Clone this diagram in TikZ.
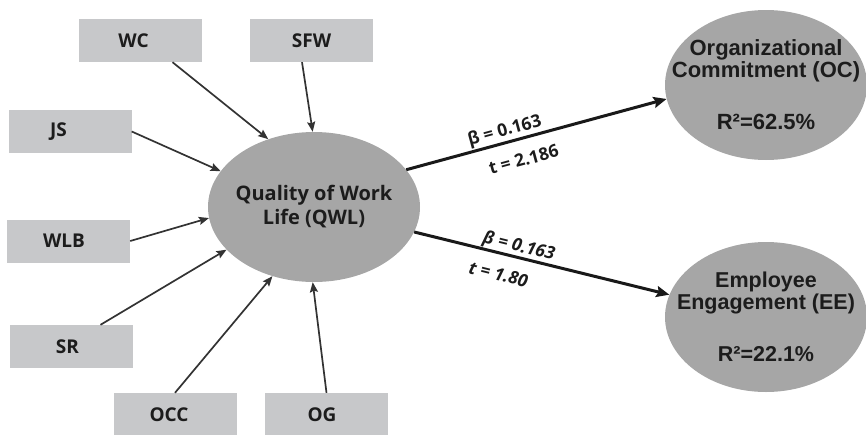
\documentclass[tikz,border=0pt]{standalone}
\usepackage{fontspec}
\usetikzlibrary{arrows.meta,shapes.geometric}
\newfontfamily\osfont{Open Sans}
\newfontfamily\lsfont{Liberation Sans}
\definecolor{boxgray}{HTML}{C7C8CA}
\definecolor{ellgray}{HTML}{A6A6A6}
\definecolor{txt}{HTML}{1C1C1C}
\definecolor{arr}{HTML}{333333}
\newcommand{\nudge}[1]{\hspace*{-#1}}
\tikzset{
  factor/.style={rectangle, fill=boxgray, minimum width=123pt, minimum height=43pt, inner sep=0pt,
    font=\osfont\bfseries\fontsize{19}{21}\selectfont, text=txt},
  blob/.style={ellipse, fill=ellgray, inner sep=0pt},
  blobtext/.style={align=center, text=txt, inner sep=0pt},
  thin arrow/.style={draw=arr, line width=1.7pt, -{Stealth[length=10pt,width=8pt,inset=1.5pt]}},
  thick arrow/.style={draw=black!90, line width=3pt, -{Stealth[length=13pt,width=11pt,inset=2pt]}},
  pathlabel/.style={sloped, inner sep=1pt, text=txt, font=\osfont\bfseries\fontsize{17.5}{19}\selectfont},
  pathlabelit/.style={pathlabel, font=\osfont\bfseries\itshape\fontsize{17.5}{19}\selectfont},
}
\begin{document}
\begin{tikzpicture}[x=1pt,y=-1pt]
\useasboundingbox (0,0) rectangle (866,434);
% factor boxes
\node[factor] (wc)  at (140.5,40.5)  {\nudge{14pt}WC};
\node[factor] (sfw) at (311.5,40.5)  {SFW};
\node[factor] (js)  at (70,131.5)    {\nudge{23pt}JS};
\node[factor] (wlb) at (68.5,241)    {\nudge{9pt}WLB};
\node[factor] (sr)  at (71.5,346.5)  {\nudge{8pt}SR};
\node[factor] (occ) at (175,414.5)   {\nudge{12pt}OCC};
\node[factor] (og)  at (326.5,414.5) {\nudge{9pt}OG};
% central construct
\node[blob, minimum width=212pt, minimum height=150pt] (qwl) at (314,207) {};
\node[blobtext, font=\osfont\bfseries\fontsize{20}{24}\selectfont] (qwlt) at (qwl) {Quality of Work\\Life (QWL)};
% outcomes
\node[blob, minimum width=202pt, minimum height=150pt] (oc) at (766,85) {};
\node[blobtext, font=\lsfont\bfseries\fontsize{22}{22}\selectfont] (oct) at (oc) {Organizational\\Commitment (OC)\\[30pt]R²=62.5\%};
\node[blob, minimum width=202pt, minimum height=150pt] (ee) at (766,317) {};
\node[blobtext, font=\lsfont\bfseries\fontsize{21.5}{22}\selectfont] (eet) at (ee) {Employee\\Engagement (EE)\\[30pt]R²=22.1\%};
% inputs
\draw[thin arrow] ([xshift=32pt]wc.south) -- (qwl.124);
\draw[thin arrow] ([xshift=-9.5pt]sfw.south) -- (qwl.91);
\draw[thin arrow] (js.east) -- (qwl.159);
\draw[thin arrow] (wlb.east) -- (qwl.186);
\draw[thin arrow] ([xshift=29pt]sr.north) -- (qwl.206);
\draw[thin arrow] (occ.north) -- (qwl.239);
\draw[thin arrow] (og.north) -- (qwl.269);
% outputs
\draw[thick arrow] (qwl.22) -- (oc.188)
  node[pathlabel, pos=0.39, above=0pt] (b1) {β = 0.163}
  node[pathlabel, pos=0.43, below=12pt] (t1) {t = 2.186};
\draw[thick arrow] (qwl.-14) -- (ee.167)
  node[pathlabelit, pos=0.40, above=-1pt] (b2) {β = 0.163}
  node[pathlabelit, pos=0.35, below=12pt] (t2) {t = 1.80};
\end{tikzpicture}
\end{document}
